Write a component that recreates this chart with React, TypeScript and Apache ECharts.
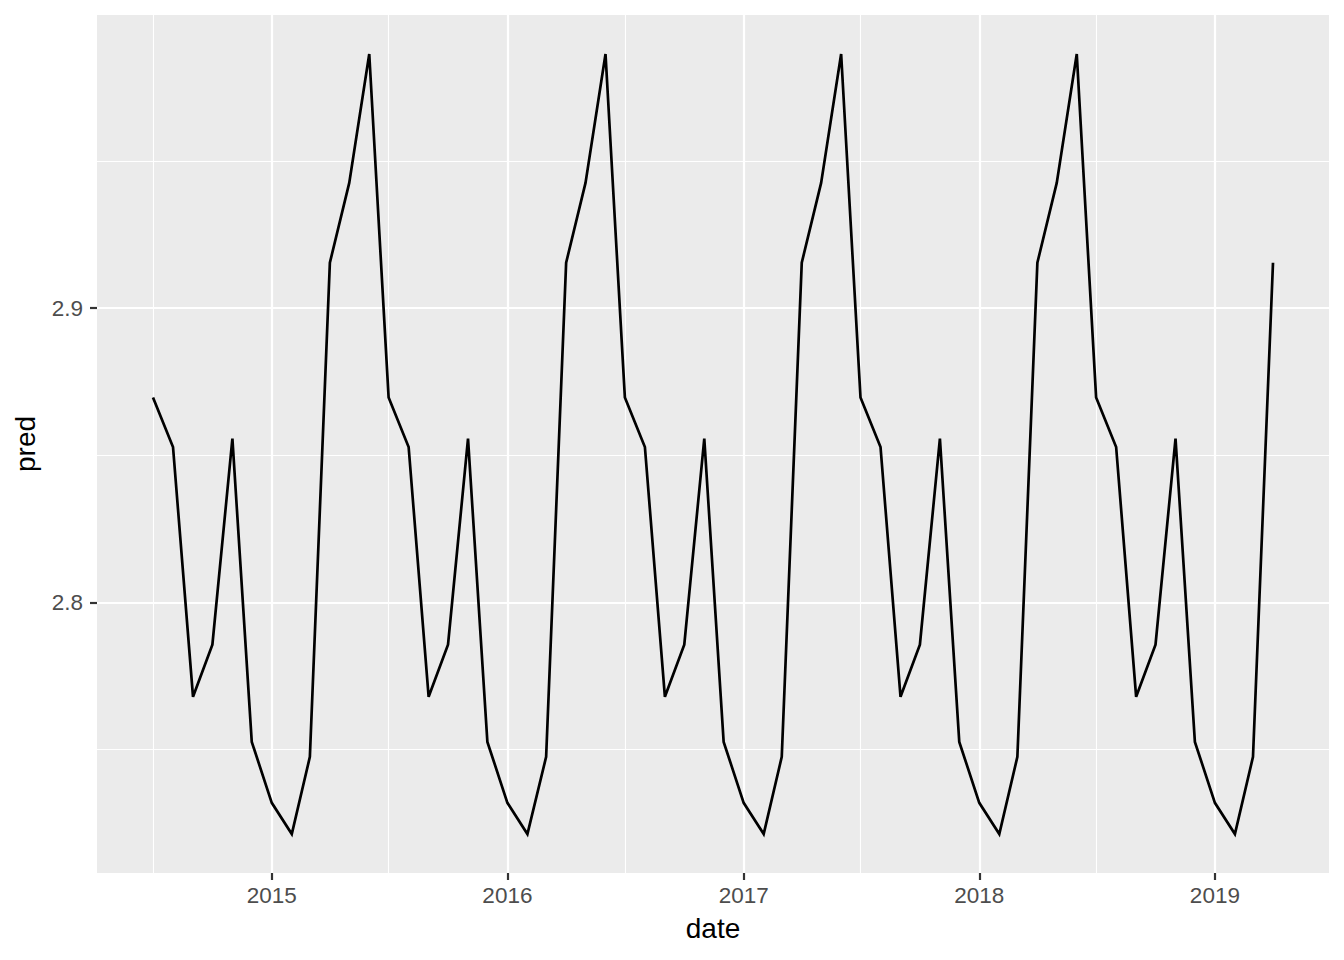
import React, { useEffect, useRef } from "react";
import * as echarts from "echarts";

// Monthly dates (first of month), Jul 2014 .. Apr 2019
const dates: string[] = [
  "2014-07-01", "2014-08-01", "2014-09-01", "2014-10-01", "2014-11-01", "2014-12-01",
  "2015-01-01", "2015-02-01", "2015-03-01", "2015-04-01", "2015-05-01", "2015-06-01",
  "2015-07-01", "2015-08-01", "2015-09-01", "2015-10-01", "2015-11-01", "2015-12-01",
  "2016-01-01", "2016-02-01", "2016-03-01", "2016-04-01", "2016-05-01", "2016-06-01",
  "2016-07-01", "2016-08-01", "2016-09-01", "2016-10-01", "2016-11-01", "2016-12-01",
  "2017-01-01", "2017-02-01", "2017-03-01", "2017-04-01", "2017-05-01", "2017-06-01",
  "2017-07-01", "2017-08-01", "2017-09-01", "2017-10-01", "2017-11-01", "2017-12-01",
  "2018-01-01", "2018-02-01", "2018-03-01", "2018-04-01", "2018-05-01", "2018-06-01",
  "2018-07-01", "2018-08-01", "2018-09-01", "2018-10-01", "2018-11-01", "2018-12-01",
  "2019-01-01", "2019-02-01", "2019-03-01", "2019-04-01",
];

const pred: number[] = [
  2.8696, 2.8528, 2.7679, 2.7856, 2.8556, 2.7526,
  2.7319, 2.7213, 2.7475, 2.9154, 2.9425, 2.9863,
  2.8696, 2.8528, 2.7679, 2.7856, 2.8556, 2.7526,
  2.7319, 2.7213, 2.7475, 2.9154, 2.9425, 2.9863,
  2.8696, 2.8528, 2.7679, 2.7856, 2.8556, 2.7526,
  2.7319, 2.7213, 2.7475, 2.9154, 2.9425, 2.9863,
  2.8696, 2.8528, 2.7679, 2.7856, 2.8556, 2.7526,
  2.7319, 2.7213, 2.7475, 2.9154, 2.9425, 2.9863,
  2.8696, 2.8528, 2.7679, 2.7856, 2.8556, 2.7526,
  2.7319, 2.7213, 2.7475, 2.9154,
];

const xMajorBreaks: string[] = ["2015-01-01", "2016-01-01", "2017-01-01", "2018-01-01", "2019-01-01"];
const xMinorBreaks: string[] = ["2014-07-01", "2015-07-01", "2016-07-01", "2017-07-01", "2018-07-01"];
const yMajorBreaks: number[] = [2.8, 2.9];
const yMinorBreaks: number[] = [2.75, 2.85, 2.95];

const ts = (d: string) => Date.parse(d + "T00:00:00Z");

export default function App() {
  const ref = useRef<HTMLDivElement>(null);

  useEffect(() => {
    if (!ref.current) return;
    const chart = echarts.init(ref.current, undefined, { renderer: "svg" });

    const xs = dates.map(ts);
    const x0 = Math.min(...xs);
    const x1 = Math.max(...xs);
    const xPad = (x1 - x0) * 0.05;
    const y0 = Math.min(...pred);
    const y1 = Math.max(...pred);
    const yPad = (y1 - y0) * 0.05;
    const xMin = x0 - xPad;
    const xMax = x1 + xPad;
    const yMin = y0 - yPad;
    const yMax = y1 + yPad;

    const font = "'Liberation Sans', Arial, sans-serif";

    chart.setOption({
      animation: false,
      backgroundColor: "#FFFFFF",
      grid: {
        left: 97,
        right: 15,
        top: 15,
        bottom: 87,
        containLabel: false,
        outerBoundsMode: "none",
        show: true,
        backgroundColor: "#EBEBEB",
        borderWidth: 0,
      },
      xAxis: [
        {
          type: "value",
          min: xMin,
          max: xMax,
          position: "bottom",
          name: "date",
          nameLocation: "middle",
          nameGap: 41,
          nameTextStyle: { color: "#000000", fontSize: 28, fontFamily: font },
          axisLine: { show: false },
          axisTick: {
            show: true,
            length: 7,
            customValues: xMajorBreaks.map(ts),
            lineStyle: { color: "#333333", width: 2.2 },
          },
          axisLabel: {
            customValues: xMajorBreaks.map(ts),
            margin: 11,
            color: "#4D4D4D",
            fontSize: 22.5,
            fontFamily: font,
            formatter: (v: number) => String(new Date(v).getUTCFullYear()),
          },
          splitLine: { show: true, lineStyle: { color: "#FFFFFF", width: 2.2 } },
          z: 2,
        },
        {
          type: "value",
          min: xMin,
          max: xMax,
          position: "bottom",
          axisLine: { show: false },
          axisTick: { show: false, customValues: xMinorBreaks.map(ts) },
          axisLabel: { show: false, customValues: xMinorBreaks.map(ts) },
          splitLine: { show: true, lineStyle: { color: "#FFFFFF", width: 1.1 } },
          z: 1,
        },
      ],
      yAxis: [
        {
          type: "value",
          min: yMin,
          max: yMax,
          position: "left",
          name: "pred",
          nameLocation: "middle",
          nameRotate: 90,
          nameGap: 58,
          nameTextStyle: { color: "#000000", fontSize: 28, fontFamily: font },
          axisLine: { show: false },
          axisTick: {
            show: true,
            length: 7,
            customValues: yMajorBreaks,
            lineStyle: { color: "#333333", width: 2.2 },
          },
          axisLabel: {
            customValues: yMajorBreaks,
            margin: 14,
            color: "#4D4D4D",
            fontSize: 22.5,
            fontFamily: font,
            formatter: (v: number) => v.toFixed(1),
          },
          splitLine: { show: true, lineStyle: { color: "#FFFFFF", width: 2.2 } },
          z: 2,
        },
        {
          type: "value",
          min: yMin,
          max: yMax,
          position: "left",
          axisLine: { show: false },
          axisTick: { show: false, customValues: yMinorBreaks },
          axisLabel: { show: false, customValues: yMinorBreaks },
          splitLine: { show: true, lineStyle: { color: "#FFFFFF", width: 1.1 } },
          z: 1,
        },
      ],
      series: [
        {
          type: "line",
          xAxisIndex: 0,
          yAxisIndex: 0,
          data: xs.map((x, i) => [x, pred[i]]),
          showSymbol: false,
          symbol: "none",
          lineStyle: { color: "#000000", width: 2.7, join: "miter" },
          z: 5,
        },
      ],
    });

    return () => chart.dispose();
  }, []);

  return (
    <div
      ref={ref}
      style={{ position: "fixed", left: 0, top: 0, width: 1344, height: 960 }}
    />
  );
}
